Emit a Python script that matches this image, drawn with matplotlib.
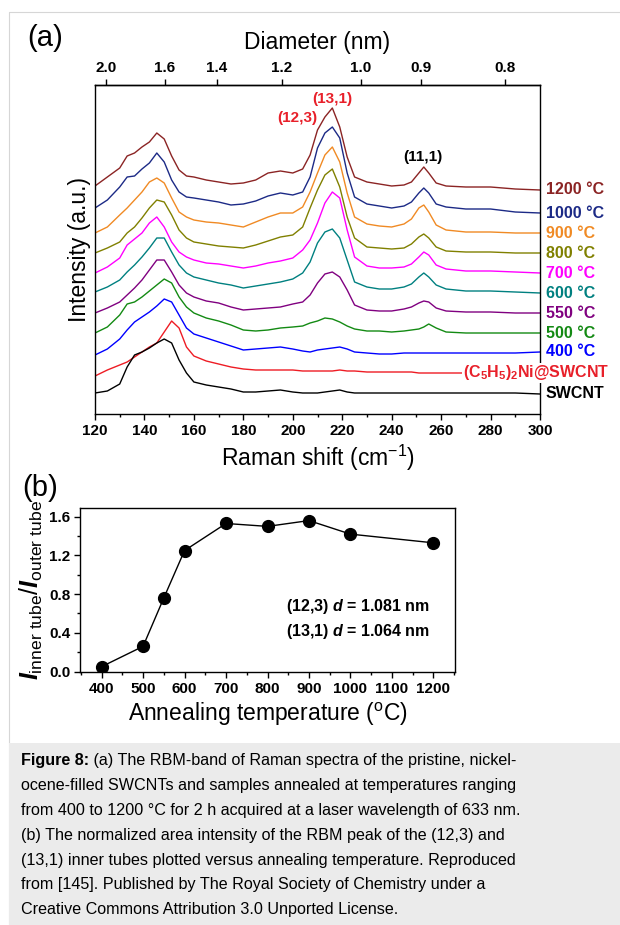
import numpy as np
import matplotlib
matplotlib.use("Agg")
import matplotlib.pyplot as plt
import matplotlib.transforms as mtransforms
from matplotlib.patches import Rectangle
from matplotlib.ticker import MultipleLocator, FormatStrFormatter
from matplotlib import font_manager

plt.rcParams["font.family"] = ["Liberation Sans", "DejaVu Sans"]
plt.rcParams["mathtext.fontset"] = "custom"
plt.rcParams["mathtext.rm"] = "Liberation Sans"
plt.rcParams["mathtext.it"] = "Liberation Sans:italic:bold"
plt.rcParams["mathtext.bf"] = "Liberation Sans:bold"
plt.rcParams["mathtext.default"] = "regular"

# ---------------------------------------------------------------------------
# Data (a): RBM spectra, offset stacked (a.u.)
# ---------------------------------------------------------------------------
RAMAN_SHIFT = [120, 125, 130, 133, 136, 139, 142, 145, 148, 151, 154, 157,
               160, 165, 170, 175, 180, 185, 190, 195, 200, 204, 207, 210,
               213, 216, 219, 222, 225, 230, 235, 240, 245, 248, 251, 253,
               255, 258, 262, 270, 280, 290, 300]

I_1200 = [22.8, 23.7, 24.6, 25.8, 26.1, 26.7, 27.2, 28.1, 27.5, 25.8, 24.4, 23.8,
          23.7, 23.4, 23.2, 23.0, 23.1, 23.4, 24.1, 24.3, 24.1, 24.5, 25.9, 28.4,
          29.7, 30.6, 28.7, 25.7, 23.7, 23.2, 23.0, 22.8, 22.9, 23.2, 24.1, 24.7,
          24.1, 23.1, 22.8, 22.7, 22.7, 22.5, 22.4]
I_1000 = [20.6, 21.4, 22.7, 23.7, 23.8, 24.5, 25.1, 26.1, 25.2, 23.4, 22.2, 21.7,
          21.6, 21.4, 21.2, 20.9, 21.0, 21.3, 21.8, 22.1, 21.9, 22.2, 23.7, 26.6,
          28.1, 28.7, 27.6, 24.1, 21.7, 21.0, 20.8, 20.6, 20.8, 21.2, 22.1, 22.6,
          22.1, 21.0, 20.7, 20.5, 20.5, 20.2, 20.1]
I_900 = [18.1, 18.7, 19.9, 20.6, 21.4, 22.2, 23.2, 23.6, 23.1, 21.6, 20.2, 19.7,
         19.4, 19.2, 19.1, 18.9, 18.7, 19.2, 19.7, 20.1, 20.1, 20.7, 22.2, 24.1,
         25.9, 26.7, 25.2, 22.1, 19.7, 19.0, 18.8, 18.7, 19.0, 19.5, 20.6, 20.9,
         20.2, 18.9, 18.4, 18.2, 18.2, 18.1, 18.1]
I_800 = [16.1, 16.6, 17.2, 18.1, 18.7, 19.6, 20.6, 21.4, 21.2, 19.9, 18.4, 17.6,
         17.2, 17.0, 16.8, 16.7, 16.6, 16.9, 17.3, 17.7, 17.9, 18.7, 20.6, 22.4,
         23.9, 24.5, 22.7, 19.7, 17.6, 16.7, 16.6, 16.5, 16.6, 17.0, 17.7, 18.0,
         17.6, 16.7, 16.3, 16.2, 16.2, 16.1, 16.1]
I_700 = [14.1, 14.7, 15.6, 16.9, 17.5, 18.1, 19.1, 19.7, 18.7, 17.2, 16.2, 15.7,
         15.4, 15.1, 15.0, 14.8, 14.6, 14.8, 15.1, 15.3, 15.6, 16.4, 17.4, 19.1,
         21.1, 22.2, 21.6, 18.4, 15.7, 14.8, 14.6, 14.6, 14.7, 15.0, 15.7, 16.2,
         15.9, 14.9, 14.5, 14.3, 14.3, 14.2, 14.1]
I_600 = [12.2, 12.7, 13.4, 14.2, 14.9, 15.7, 16.6, 17.6, 17.6, 16.2, 14.9, 14.1,
         13.7, 13.4, 13.1, 12.9, 12.6, 12.8, 13.0, 13.2, 13.5, 14.1, 15.2, 17.1,
         18.2, 18.5, 17.6, 15.4, 13.2, 12.7, 12.5, 12.5, 12.7, 13.0, 13.7, 14.1,
         13.7, 12.9, 12.5, 12.3, 12.3, 12.2, 12.1]
I_550 = [10.1, 10.6, 11.2, 11.9, 12.6, 13.4, 14.4, 15.4, 15.4, 14.2, 12.9, 12.1,
         11.7, 11.3, 11.1, 10.7, 10.4, 10.5, 10.6, 10.7, 11.0, 11.2, 11.9, 13.1,
         14.0, 14.2, 13.7, 12.4, 10.9, 10.4, 10.3, 10.3, 10.5, 10.7, 11.1, 11.3,
         11.2, 10.6, 10.3, 10.2, 10.2, 10.1, 10.1]
I_500 = [8.1, 8.7, 9.9, 11.0, 11.2, 11.7, 12.3, 12.9, 13.5, 13.1, 11.7, 10.7,
         10.1, 9.6, 9.3, 8.9, 8.4, 8.3, 8.4, 8.6, 8.7, 8.8, 9.1, 9.3,
         9.6, 9.5, 9.2, 8.8, 8.5, 8.3, 8.3, 8.2, 8.3, 8.4, 8.5, 8.7,
         9.0, 8.6, 8.2, 8.1, 8.1, 8.1, 8.1]
I_400 = [5.9, 6.5, 7.5, 8.4, 9.2, 9.7, 10.2, 10.8, 11.5, 11.2, 9.9, 8.6,
         8.0, 7.6, 7.2, 6.8, 6.4, 6.5, 6.6, 6.7, 6.5, 6.3, 6.2, 6.4,
         6.5, 6.6, 6.7, 6.5, 6.2, 6.1, 6.0, 6.0, 6.1, 6.1, 6.1, 6.1,
         6.1, 6.1, 6.1, 6.1, 6.1, 6.1, 6.2]
I_NI = [3.8, 4.4, 4.9, 5.2, 5.7, 6.2, 6.7, 7.1, 8.2, 9.3, 8.6, 6.7,
        5.8, 5.3, 5.0, 4.7, 4.5, 4.4, 4.4, 4.4, 4.4, 4.3, 4.3, 4.3,
        4.3, 4.3, 4.4, 4.3, 4.3, 4.2, 4.2, 4.2, 4.2, 4.2, 4.1, 4.1,
        4.1, 4.1, 4.1, 4.1, 4.1, 4.1, 4.1]
I_SWCNT = [2.1, 2.3, 3.0, 4.7, 5.9, 6.2, 6.6, 7.1, 7.5, 7.1, 5.4, 4.1,
           3.2, 2.9, 2.7, 2.5, 2.2, 2.2, 2.3, 2.4, 2.2, 2.1, 2.1, 2.1,
           2.2, 2.3, 2.4, 2.2, 2.1, 2.1, 2.1, 2.1, 2.1, 2.1, 2.1, 2.1,
           2.1, 2.1, 2.1, 2.1, 2.1, 2.1, 2.0]

SPECTRA = [I_1200, I_1000, I_900, I_800, I_700, I_600, I_550, I_500, I_400, I_NI, I_SWCNT]
SAMPLE_LABELS = ["1200 °C", "1000 °C", "900 °C", "800 °C", "700 °C", "600 °C",
                 "550 °C", "500 °C", "400 °C",
                 r"(C$_\mathbf{5}$H$_\mathbf{5}$)$_\mathbf{2}$Ni@SWCNT", "SWCNT"]
COLORS = ["#8b2424", "#1c2a86", "#f08a24", "#808000", "#ff00ff", "#008080",
          "#800080", "#138a13", "#0000ff", "#ee1c24", "#000000"]

# top axis: tube diameter (nm) and where it sits on the Raman shift axis
DIAMETER_LABELS = ["2.0", "1.6", "1.4", "1.2", "1.0", "0.9", "0.8"]
DIAMETER_AT_SHIFT = [124.3, 148.2, 169.3, 195.6, 227.6, 251.9, 285.8]

# ---------------------------------------------------------------------------
# Data (b): inner/outer tube intensity ratio vs annealing temperature
# ---------------------------------------------------------------------------
TEMPS = [400, 500, 550, 600, 700, 800, 900, 1000, 1200]
RATIO = [0.05, 0.26, 0.76, 1.25, 1.53, 1.50, 1.56, 1.42, 1.33]

CAPTION = [
    "ocene-filled SWCNTs and samples annealed at temperatures ranging",
    "from 400 to 1200 °C for 2 h acquired at a laser wavelength of 633 nm.",
    "(b) The normalized area intensity of the RBM peak of the (12,3) and",
    "(13,1) inner tubes plotted versus annealing temperature. Reproduced",
    "from [145]. Published by The Royal Society of Chemistry under a",
    "Creative Commons Attribution 3.0 Unported License.",
]

W, H = 620, 925
RED = "#e8202a"


def frac(x0, y0, x1, y1):
    return [x0 / W, 1 - y1 / H, (x1 - x0) / W, (y1 - y0) / H]


fig = plt.figure(figsize=(W / 100, H / 100), dpi=100)

# background: page frame + grey caption box (pixel coords)
ax_bg = fig.add_axes([0, 0, 1, 1])
ax_bg.set_xlim(0, W)
ax_bg.set_ylim(H, 0)
ax_bg.axis("off")
ax_bg.set_zorder(-10)
ax_bg.add_patch(Rectangle((9, 12), 700, 1000, fill=False, ec="#d6d6d6", lw=0.8))
ax_bg.add_patch(Rectangle((9, 743), 700, 300, fc="#ebebeb", ec="none"))

names = {f.name for f in font_manager.fontManager.ttflist}
if "Liberation Sans Narrow" in names:
    cap_family, cap_size = ["Liberation Sans Narrow", "DejaVu Sans"], 12.6
else:
    cap_family, cap_size = ["Liberation Sans", "DejaVu Sans"], 11.6

y0, dy = 761, 24.8
t0 = ax_bg.text(21, y0, "Figure 8:", fontweight="bold", fontsize=cap_size,
                family=cap_family, va="center")
ax_bg.annotate(" (a) The RBM-band of Raman spectra of the pristine, nickel-",
               xy=(1, 0.5), xycoords=t0, va="center", fontsize=cap_size,
               family=cap_family)
for i, line in enumerate(CAPTION):
    ax_bg.text(21, y0 + (i + 1) * dy, line, fontsize=cap_size,
               family=cap_family, va="center")

# ---------------------------------------------------------------------------
# Panel (a)
# ---------------------------------------------------------------------------
ax = fig.add_axes(frac(95, 85, 540, 414))
for vals, c in zip(SPECTRA, COLORS):
    ax.plot(RAMAN_SHIFT, vals, color=c, lw=1.0, solid_joinstyle="round")
ax.set_xlim(120, 300)
ax.set_ylim(0, 32.9)
ax.set_yticks([])
ax.xaxis.set_major_locator(MultipleLocator(20))
ax.xaxis.set_minor_locator(MultipleLocator(10))
ax.tick_params(axis="x", which="major", direction="out", length=4, width=1,
               labelsize=11, pad=3)
ax.tick_params(axis="x", which="minor", direction="out", length=2.5, width=1)
plt.setp(ax.get_xticklabels(), fontweight="bold")
for s in ax.spines.values():
    s.set_linewidth(1.0)
ax.set_xlabel("Raman shift (cm$^{-1}$)", fontsize=16.5, labelpad=4)
ax.set_ylabel("Intensity (a.u.)", fontsize=16.5, labelpad=3)

ax_top = ax.twiny()
ax_top.set_xlim(120, 300)
ax_top.set_xticks(DIAMETER_AT_SHIFT)
ax_top.set_xticklabels(DIAMETER_LABELS, fontweight="bold", fontsize=11)
ax_top.tick_params(axis="x", which="major", direction="out", length=4, width=1, pad=3)
ax_top.tick_params(axis="x", which="minor", length=0)
for side in ["left", "right", "bottom"]:
    ax_top.spines[side].set_visible(False)
ax_top.spines["top"].set_linewidth(1.0)
ax_top.set_xlabel("Diameter (nm)", fontsize=16.5, labelpad=9)

trans = mtransforms.blended_transform_factory(ax.transAxes, ax.transData)
for vals, lab, c in zip(SPECTRA, SAMPLE_LABELS, COLORS):
    if "Ni" in lab:
        ax.text(1.155, vals[-1], lab, color=RED, fontweight="bold", fontsize=11.5,
                va="center", ha="right", transform=trans, clip_on=False, zorder=6,
                bbox=dict(fc="white", ec="none", pad=0.3))
    else:
        ax.text(1.013, vals[-1], lab, color=c, fontweight="bold", fontsize=11.5,
                va="center", ha="left", transform=trans, clip_on=False)

ax.text(215.8, 31.5, "(13,1)", color=RED, fontweight="bold", fontsize=11,
        ha="center", va="center")
ax.text(201.7, 29.6, "(12,3)", color=RED, fontweight="bold", fontsize=11,
        ha="center", va="center")
ax.text(252.5, 25.7, "(11,1)", color="black", fontweight="bold", fontsize=11,
        ha="center", va="center")

fig.text(27 / W, 1 - 38 / H, "(a)", fontsize=21, va="center", ha="left")
fig.text(22 / W, 1 - 488 / H, "(b)", fontsize=21, va="center", ha="left")

# ---------------------------------------------------------------------------
# Panel (b)
# ---------------------------------------------------------------------------
bx = fig.add_axes(frac(80, 508, 455, 672))
bx.plot(TEMPS, RATIO, color="black", lw=1.0, marker="o", ms=8.5,
        mfc="black", mec="black")
bx.set_xlim(348, 1252)
bx.set_ylim(-0.005, 1.69)
bx.xaxis.set_major_locator(MultipleLocator(100))
bx.xaxis.set_minor_locator(MultipleLocator(50))
bx.yaxis.set_major_locator(MultipleLocator(0.4))
bx.yaxis.set_minor_locator(MultipleLocator(0.2))
bx.yaxis.set_major_formatter(FormatStrFormatter("%.1f"))
bx.tick_params(which="major", direction="out", length=4, width=1,
               labelsize=11, pad=3)
bx.tick_params(which="minor", direction="out", length=2.5, width=1)
plt.setp(bx.get_xticklabels() + bx.get_yticklabels(), fontweight="bold")
for s in bx.spines.values():
    s.set_linewidth(1.0)
bx.set_xlabel(r"Annealing temperature ($^{\mathrm{o}}$C)", fontsize=16.5, labelpad=4)
bx.set_ylabel(r"$\mathit{I}_{\mathrm{inner\ tube}}/\mathit{I}_{\mathrm{outer\ tube}}$",
              fontsize=18, labelpad=3)

bx.text(845, 0.669, r"(12,3) $\mathit{d}$ = 1.081 nm", fontweight="bold",
        fontsize=11.5, va="center")
bx.text(845, 0.416, r"(13,1) $\mathit{d}$ = 1.064 nm", fontweight="bold",
        fontsize=11.5, va="center")

fig.savefig("out.png", dpi=100)
